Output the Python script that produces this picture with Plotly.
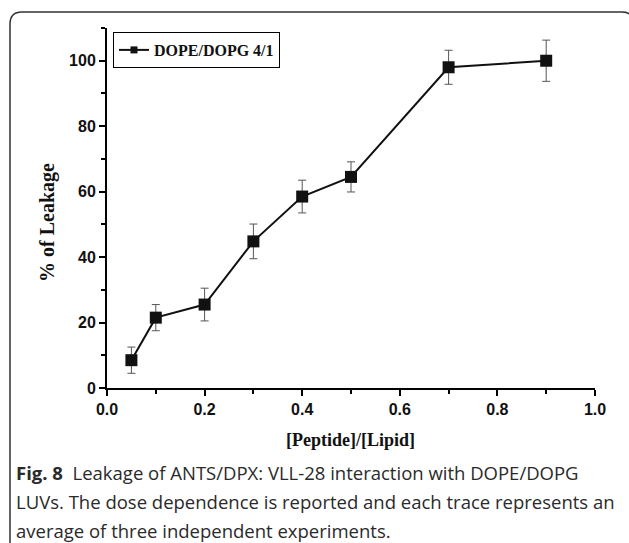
import plotly.graph_objects as go

ratio = [0.05, 0.1, 0.2, 0.3, 0.4, 0.5, 0.7, 0.9]
leakage = [8.5, 21.5, 25.5, 44.8, 58.5, 64.5, 98.0, 100.0]
err = [4.0, 4.0, 5.0, 5.3, 5.0, 4.6, 5.2, 6.3]
series_name = "DOPE/DOPG 4/1"
x_ticks = [0.0, 0.2, 0.4, 0.6, 0.8, 1.0]
x_labels = ["0.0", "0.2", "0.4", "0.6", "0.8", "1.0"]
y_ticks = [0, 20, 40, 60, 80, 100]
caption_lines = [
    "<b>Fig. 8</b>  Leakage of ANTS/DPX: VLL-28 interaction with DOPE/DOPG",
    "LUVs. The dose dependence is reported and each trace represents an",
    "average of three independent experiments.",
]

W, H = 629, 543
L, R, T, B = 107, 34, 28, 155
pw, ph = W - L - R, H - T - B

def px(x):
    return (x - L) / pw

def py(y):
    return (H - B - y) / ph

fig = go.Figure()
fig.add_trace(go.Scatter(
    x=ratio, y=leakage, name=series_name, mode="lines+markers", showlegend=False,
    line=dict(color="#111111", width=2),
    marker=dict(symbol="square", size=12, color="#111111"),
    error_y=dict(type="data", array=err, visible=True, color="#555555", thickness=1, width=4),
))
# legend entry (smaller symbol, as in the reference legend)
fig.add_trace(go.Scatter(
    x=[None], y=[None], name=series_name, mode="lines+markers", showlegend=True,
    line=dict(color="#111111", width=2),
    marker=dict(symbol="square", size=7, color="#111111"),
))

axis_common = dict(
    showgrid=False, zeroline=False, showline=True, linecolor="black", linewidth=2,
    ticks="outside", ticklen=6, tickwidth=1.5, tickcolor="black",
    tickfont=dict(family="Liberation Sans", size=16, color="#111111", weight="bold"),
)
fig.update_xaxes(range=[0, 1.0], tickvals=x_ticks, ticktext=x_labels,
                 minor=dict(dtick=0.1, ticks="outside", ticklen=4, tickwidth=1.5, tickcolor="black"),
                 **axis_common)
fig.update_yaxes(range=[0, 110], tickvals=y_ticks,
                 minor=dict(dtick=10, ticks="outside", ticklen=4, tickwidth=1.5, tickcolor="black"),
                 **axis_common)

annotations = [
    dict(text="<b>% of Leakage</b>", x=px(47), y=py(223), xref="paper", yref="paper",
         textangle=-90, showarrow=False, font=dict(family="Liberation Serif", size=20, color="#111111"),
         xanchor="center", yanchor="middle"),
    dict(text="<b>[Peptide]/[Lipid]</b>", x=px(350), y=py(440), xref="paper", yref="paper",
         showarrow=False, font=dict(family="Liberation Serif", size=18, color="#111111"),
         xanchor="center", yanchor="middle"),
]
for i, line in enumerate(caption_lines):
    annotations.append(dict(text=line, x=px(14), y=py(472 + 29 * i), xref="paper", yref="paper",
                            showarrow=False, xanchor="left", yanchor="middle",
                            font=dict(family="Open Sans", size=18.5, color="#2a2a2a")))

r = 12
x0, x1, y0, y1 = px(10), px(634), py(12), py(560)
rx, ry = r / pw, r / ph
path = (f"M {x0} {y1} L {x0} {y0 - ry} Q {x0} {y0} {x0 + rx} {y0} "
        f"L {x1 - rx} {y0} Q {x1} {y0} {x1} {y0 - ry} L {x1} {y1}")

fig.update_layout(
    width=W, height=H, margin=dict(l=L, r=R, t=T, b=B),
    paper_bgcolor="white", plot_bgcolor="white",
    showlegend=True,
    legend=dict(x=px(113), y=py(32), xanchor="left", yanchor="top",
                bordercolor="black", borderwidth=1, bgcolor="white",
                font=dict(family="Liberation Serif", size=16, color="#111111", weight="bold"),
                itemwidth=30, tracegroupgap=0),
    annotations=annotations,
    shapes=[dict(type="path", path=path, xref="paper", yref="paper",
                 line=dict(color="#333333", width=1.5))],
)

fig.write_html("out.html", config={"displayModeBar": False},
               post_script="document.body.style.margin='0';")
